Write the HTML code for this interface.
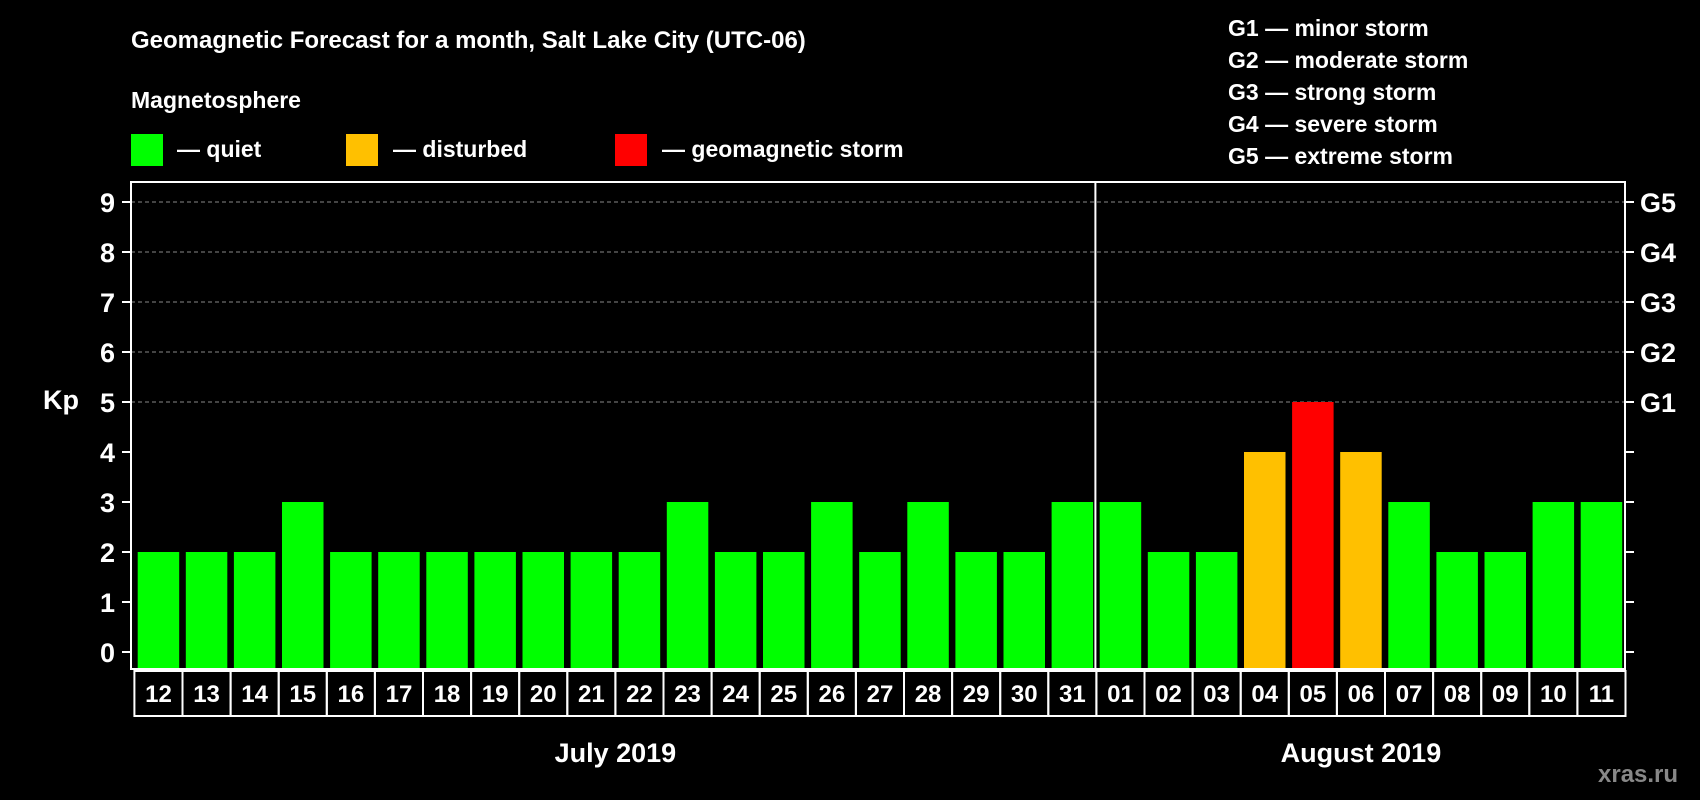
<!DOCTYPE html>
<html><head><meta charset="utf-8"><style>
html,body{margin:0;padding:0;background:#000;}
svg{display:block;font-family:"Liberation Sans",Arial,sans-serif;font-weight:bold;}
</style></head><body>
<svg id="chart" width="1700" height="800" viewBox="0 0 1700 800" xmlns="http://www.w3.org/2000/svg">
<rect width="1700" height="800" fill="#000"/>
<text x="131" y="48" fill="#fff" font-size="24">Geomagnetic Forecast for a month, Salt Lake City (UTC-06)</text>
<text x="131" y="108" fill="#fff" font-size="23">Magnetosphere</text>
<rect x="131" y="134" width="32" height="32" fill="#00ff00"/>
<text x="177" y="157" fill="#fff" font-size="23">— quiet</text>
<rect x="346" y="134" width="32" height="32" fill="#ffc000"/>
<text x="393" y="157" fill="#fff" font-size="23">— disturbed</text>
<rect x="615" y="134" width="32" height="32" fill="#ff0000"/>
<text x="662" y="157" fill="#fff" font-size="23">— geomagnetic storm</text>
<g fill="#fff" font-size="23">
<text x="1228" y="36">G1 — minor storm</text>
<text x="1228" y="68">G2 — moderate storm</text>
<text x="1228" y="100">G3 — strong storm</text>
<text x="1228" y="132">G4 — severe storm</text>
<text x="1228" y="164">G5 — extreme storm</text>
</g>
<text x="43" y="409" fill="#fff" font-size="27">Kp</text>
<g id="grid"></g><g id="bars"></g><g id="axes"></g>
<text x="1598" y="782" fill="#888" font-size="24">xras.ru</text>
</svg>
<script>
const days = ["12","13","14","15","16","17","18","19","20","21","22","23","24","25","26","27","28","29","30","31","01","02","03","04","05","06","07","08","09","10","11"];
const kpValues = [2,2,2,3,2,2,2,2,2,2,2,3,2,2,3,2,3,2,2,3,3,2,2,4,5,4,3,2,2,3,3];
const yTicks = [0,1,2,3,4,5,6,7,8,9];
const gLabels = ["","","","","","G1","G2","G3","G4","G5"];
const months = ["July 2019","August 2019"];
const monthDayCounts = [20,11];
const NS="http://www.w3.org/2000/svg";
const L=131,R=1625,T=182,B=669,Y0=652,YU=50,SX=134.4,SW=48.1,BW=41.5;
const y=v=>Y0-v*YU;
const x=i=>SX+i*SW;
function mk(t,a,p){const e=document.createElementNS(NS,t);for(const k in a)e.setAttribute(k,a[k]);(p||document.getElementById('chart')).appendChild(e);return e;}
const grid=document.getElementById('grid'),bars=document.getElementById('bars'),axes=document.getElementById('axes');
yTicks.forEach((v,i)=>{
  if(v>=5){const g=mk('line',{x1:L,x2:R,y1:y(v),y2:y(v),stroke:'#888','stroke-dasharray':'4,3','stroke-width':1},grid);
  
  }
  const tl=mk('line',{x1:L-9,x2:L,y1:y(v),y2:y(v),stroke:'#fff','stroke-width':2},axes);
  
  
  const tr=mk('line',{x1:R,x2:R+9,y1:y(v),y2:y(v),stroke:'#fff','stroke-width':2},axes);
  
  
  const t=mk('text',{x:115,y:y(v)+10,fill:'#fff','font-size':27,'text-anchor':'end'},axes);t.textContent=v;
  
  
  if(gLabels[i]){const g=mk('text',{x:1640,y:y(v)+10,fill:'#fff','font-size':27},axes);g.textContent=gLabels[i];
  
  }
});
kpValues.forEach((v,i)=>{
  const c=v>=5?'#ff0000':(v>=4?'#ffc000':'#00ff00');
  const r=mk('rect',{x:x(i)+3.3,y:y(v),width:BW,height:B-y(v),fill:c},bars);
  
  
  const b=mk('rect',{x:x(i),y:B+2,width:SW,height:45,fill:'none',stroke:'#fff','stroke-width':2},axes);
  
  
  const t=mk('text',{x:x(i)+SW/2,y:B+33,fill:'#fff','font-size':24,'text-anchor':'middle'},axes);t.textContent=days[i];
  
  
});
const fr=mk('rect',{x:L,y:T,width:R-L,height:B-T,fill:'none',stroke:'#fff','stroke-width':2},axes);


let start=0;
months.forEach((m,k)=>{
  const n=monthDayCounts[k];
  if(k>0){const s=mk('line',{x1:x(start)-1,x2:x(start)-1,y1:T,y2:B,stroke:'#fff','stroke-width':2},axes);
  
  }
  const t=mk('text',{x:x(start)+n*SW/2,y:762,fill:'#fff','font-size':27,'text-anchor':'middle'},axes);t.textContent=m;
  
  
  start+=n;
});
</script>
</body></html>
